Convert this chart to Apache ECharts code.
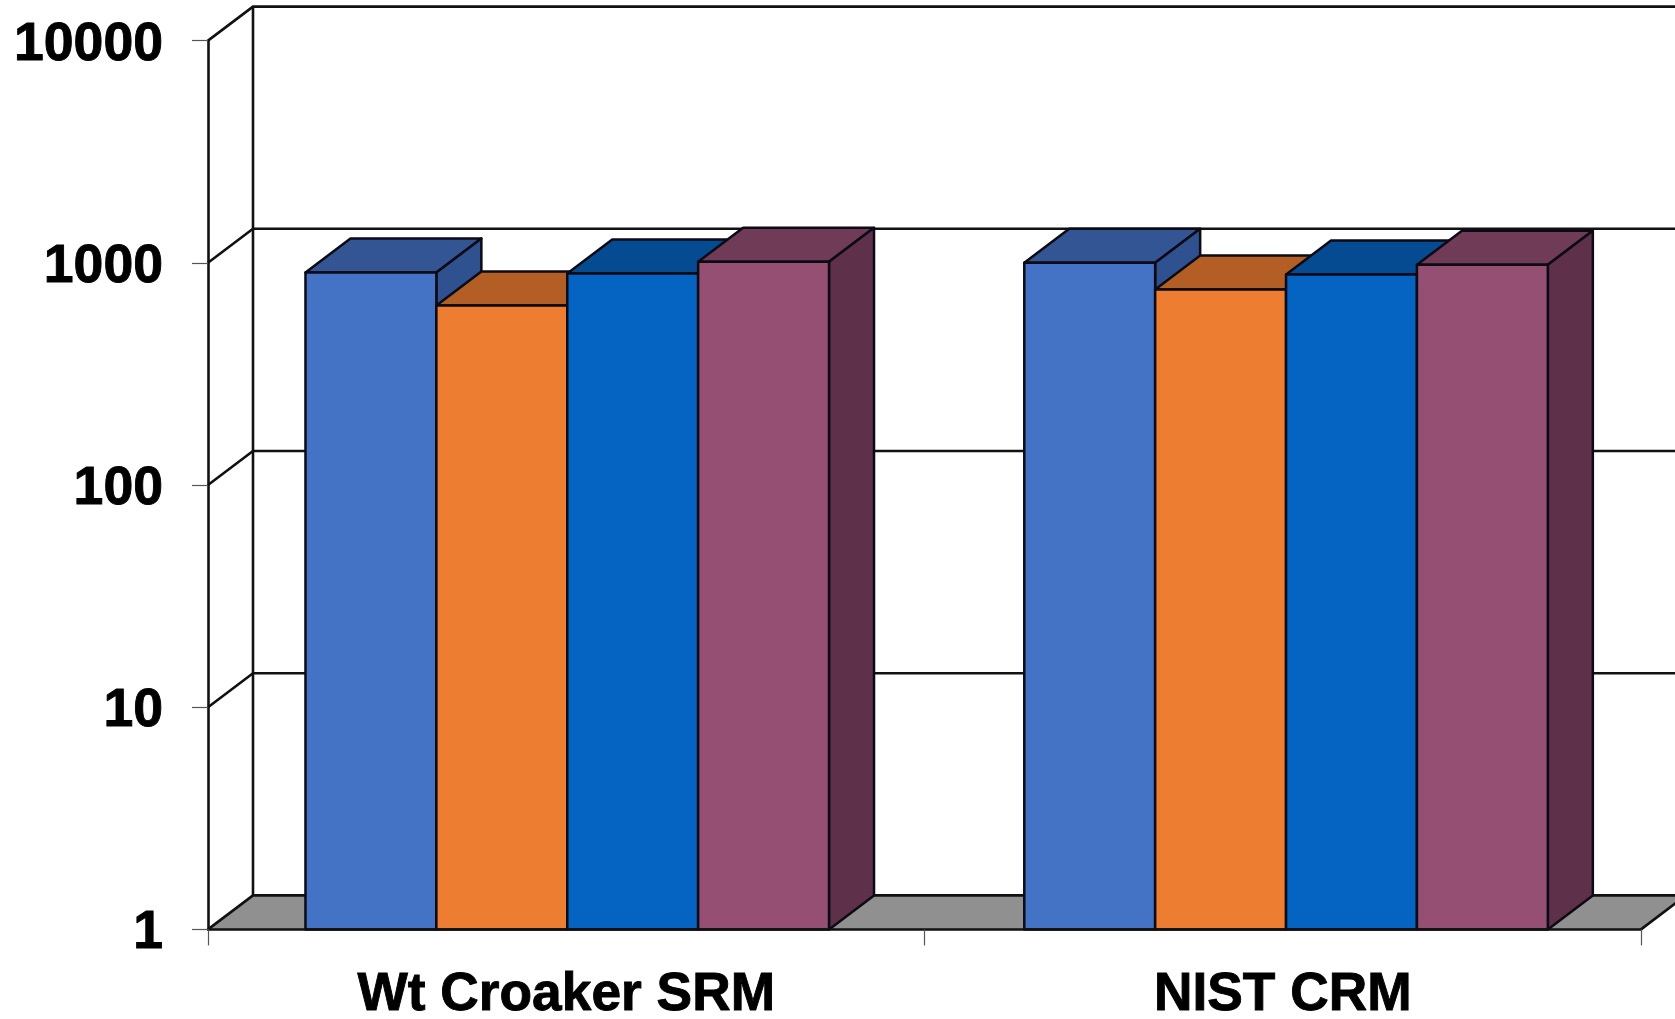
<!DOCTYPE html>
<html><head><meta charset="utf-8">
<style>html,body{margin:0;padding:0;background:#fff}#c{width:1675px;height:1019px}</style>
<script src="https://cdn.jsdelivr.net/npm/echarts@6/dist/echarts.min.js"></script>
</head><body><div id="c"></div>
<script>
const categories = ['Wt Croaker SRM', 'NIST CRM'];
const tickValues = [1, 10, 100, 1000, 10000];
const seriesA = [905, 1000];
const seriesB = [642, 759];
const seriesC = [895, 885];
const seriesD = [1011, 979];
const frontColors = ['#4472C4', '#ED7D31', '#0563C1', '#954F72'];
const topColors = ['#345594', '#B35E24', '#044B92', '#703B56'];
const sideColors = ['#2F5190', '#A85820', '#03468A', '#5F304A'];

const DX = 45, DY = 34, LINE = '#111', BORDER = '#0c0a14';
const GROUP_SHARE = 0.7307, GROUP_SHIFT = 1, GROUP_SPREAD = 2.3;
const chart = echarts.init(document.getElementById('c'), null, {renderer: 'canvas'});

function barItem(idx) {
  return function (params, api) {
    const p = api.coord([api.value(0), api.value(1)]);
    const base = api.coord([api.value(0), 1]);
    const bw = api.size([1, 1])[0] * GROUP_SHARE / 4;
    const x0 = p[0] + GROUP_SHIFT + api.value(0) * GROUP_SPREAD + (idx - 2) * bw, x1 = x0 + bw, yT = p[1], yB = base[1];
    const style = c => ({fill: c, stroke: BORDER, lineWidth: 2.5, lineJoin: 'round'});
    return {type: 'group', children: [
      {type: 'polygon', shape: {points: [[x0, yT], [x1, yT], [x1 + DX, yT - DY], [x0 + DX, yT - DY]]}, style: style(topColors[idx])},
      {type: 'polygon', shape: {points: [[x1, yT], [x1 + DX, yT - DY], [x1 + DX, yB - DY], [x1, yB]]}, style: style(sideColors[idx])},
      {type: 'rect', shape: {x: x0, y: yT, width: bw, height: yB - yT}, style: style(frontColors[idx])}
    ]};
  };
}
function barSeries(name, values, idx) {
  return {name, type: 'custom', z: 3, coordinateSystem: 'cartesian2d', renderItem: barItem(idx),
    encode: {x: 0, y: 1}, data: values.map((v, i) => [i, v]), silent: true, clip: false};
}
function wallItem(params, api) {
  const cs = params.coordSys, xL = cs.x, xR = cs.x + cs.width;
  const v = api.value(0), y = api.coord([0, v])[1];
  const yBase = api.coord([0, 1])[1], yTop = api.coord([0, 10000])[1];
  const line = {stroke: LINE, lineWidth: 2.6, fill: null};
  const kids = [];
  if (v === 1) {
    kids.push({type: 'polygon', shape: {points: [[xL, y], [xR, y], [xR + DX, y - DY], [xL + DX, y - DY]]},
      style: {fill: '#909090', stroke: 'none'}});
    kids.push({type: 'line', shape: {x1: xL + DX, y1: yBase - DY, x2: xL + DX, y2: yTop - DY}, style: line});
    kids.push({type: 'line', shape: {x1: xR, y1: y, x2: xR + DX, y2: y - DY}, style: line});
  }
  kids.push({type: 'polyline', shape: {points: [[xL, y], [xL + DX, y - DY], [xR + DX + 20, y - DY]]}, style: line});
  return {type: 'group', children: kids};
}
const labelBase = {color: '#000', fontFamily: 'Liberation Sans', fontWeight: 'bold', textBorderColor: '#000', textBorderWidth: 0.9};

chart.setOption({
  animation: false,
  backgroundColor: '#fff',
  grid: {left: 208, right: 34, top: 40.6, bottom: 89.6, containLabel: false, outerBoundsMode: 'none'},
  xAxis: {
    type: 'category', data: categories, z: 5,
    axisLine: {show: true, lineStyle: {color: LINE, width: 2.6}},
    axisTick: {show: true, alignWithLabel: false, length: 16, lineStyle: {color: '#555', width: 1.2}},
    axisLabel: Object.assign({}, labelBase, {fontSize: 53.3, margin: 39})
  },
  yAxis: {
    type: 'log', logBase: 10, min: 1, max: 10000, z: 5,
    axisLine: {show: true, lineStyle: {color: LINE, width: 2.6}},
    axisTick: {show: true, length: 16, lineStyle: {color: '#555', width: 1.2}},
    splitLine: {show: false}, minorTick: {show: false},
    axisLabel: Object.assign({}, labelBase, {fontSize: 53.6, margin: 45, verticalAlign: 'top', lineHeight: 8.6,
      formatter: v => String(Math.round(v))})
  },
  series: [
    {name: 'walls', type: 'custom', z: 1, renderItem: wallItem, encode: {y: 0}, silent: true, clip: false,
      data: tickValues.map(v => [v])},
    barSeries('A', seriesA, 0),
    barSeries('B', seriesB, 1),
    barSeries('C', seriesC, 2),
    barSeries('D', seriesD, 3)
  ]
});
</script></body></html>
